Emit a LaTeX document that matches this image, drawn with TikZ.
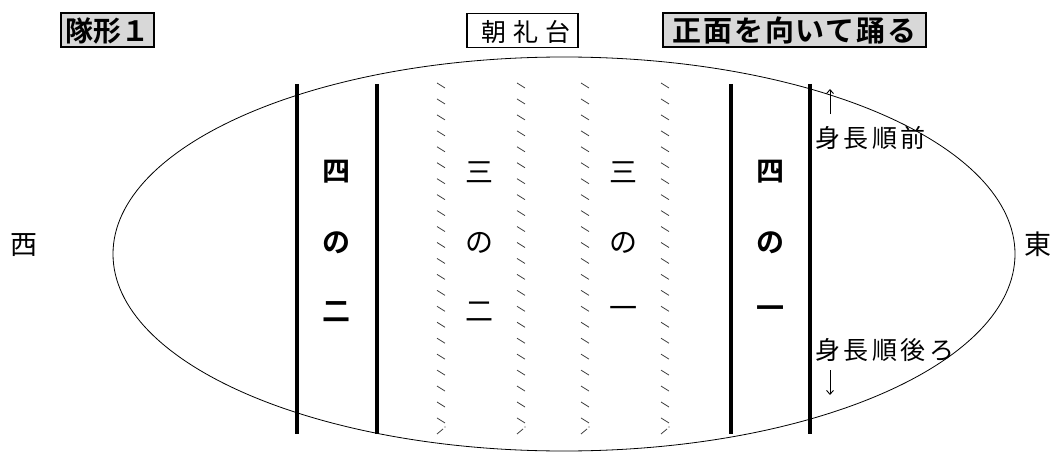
\documentclass[tikz,border=0pt]{standalone}
\usepackage{fontspec}
\usetikzlibrary{arrows.meta}
\newfontfamily\jp{Noto Sans CJK JP}[BoldFont={Noto Sans CJK JP Bold}]
\newfontfamily\jpsp{Noto Sans CJK JP}[LetterSpace=14,BoldFont={Noto Sans CJK JP Bold}]
\newfontfamily\jpspw{Noto Sans CJK JP}[LetterSpace=30]
\newfontfamily\jpsn{Noto Sans CJK JP}[LetterSpace=6,BoldFont={Noto Sans CJK JP Bold}]
\definecolor{boxgray}{RGB}{216,216,216}
\begin{document}
\begin{tikzpicture}[x=1pt,y=-1pt,
  lbl/.style={font=\jp\fontsize{28}{28}\selectfont, inner sep=0pt},
  blbl/.style={font=\jp\bfseries\fontsize{28}{28}\selectfont, inner sep=0pt},
  thickline/.style={line width=4pt},
  tick/.style={line width=0.8pt, black!75},
  titlebox/.style={draw, line width=2pt, fill=boxgray, inner sep=0pt, minimum height=34pt},
  plainbox/.style={draw, line width=1.3pt, fill=white, inner sep=0pt, minimum height=34pt},
  side/.style={font=\jpsp\fontsize{25}{25}\selectfont, inner sep=0pt, anchor=west}
]
\useasboundingbox (0,0) rectangle (1058,452);
% field
\draw[line width=0.8pt] (564,254) ellipse [x radius=451pt, y radius=197pt];
% solid lines
\foreach \cx in {297,377,731,810}
  \draw[thickline] (\cx,84) -- (\cx,434);
% dotted columns
\foreach \cx in {441,521,585,665}{
  \foreach \i in {0,...,21}
    \draw[tick] (\cx-4,83+\i*15.95) -- ++(8,5);
  \draw[tick] (\cx-4,434) -- ++(6,-5);
  \fill[black!75] (\cx+4,427) circle (0.7pt);
}
% column labels
\node[blbl] (a1) at (336,172) {四};
\node[blbl] (a2) at (336,243) {の};
\node[blbl] (a3) at (336,312) {二};
\node[lbl] (b1) at (479,172) {三};
\node[lbl] (b2) at (479,243) {の};
\node[lbl] (b3) at (479,312) {二};
\node[lbl] (c1) at (623,172) {三};
\node[lbl] (c2) at (623,243) {の};
\node[lbl] (c3) at (623,312) {一};
\node[blbl] (d1) at (770,172) {四};
\node[blbl] (d2) at (770,243) {の};
\node[blbl] (d3) at (770,312) {一};
% west / east
\node[lbl, font=\jp\fontsize{27}{27}\selectfont] (west) at (24,245) {西};
\node[lbl, font=\jp\fontsize{27}{27}\selectfont] (east) at (1038,244) {東};
% title boxes
\node[titlebox, minimum width=93pt, font=\jp\bfseries\fontsize{28}{28}\selectfont] (title) at (107.5,30.5) {隊形１};
\node[plainbox, minimum width=111pt, font=\jpspw\fontsize{25}{25}\selectfont, text depth=0pt] (stage) at (522.5,30.5) {\hspace{7pt}朝礼台};
\node[titlebox, minimum width=263pt, font=\jpsn\bfseries\fontsize{29}{29}\selectfont] (front) at (794.5,30.5) {正面を向いて踊る};
% side notes
\node[side] (fwd) at (815,138) {身長順前};
\node[side] (back) at (815,350) {身長順後ろ};
\coordinate (upS) at (830,114);
\coordinate (upE) at (830,89);
\coordinate (dnS) at (830,370);
\coordinate (dnE) at (830,395);
\draw[line width=0.9pt, -{Straight Barb[length=4pt,width=7pt]}] (upS) -- (upE);
\draw[line width=0.9pt, -{Straight Barb[length=4pt,width=7pt]}] (dnS) -- (dnE);
\end{tikzpicture}
\end{document}
